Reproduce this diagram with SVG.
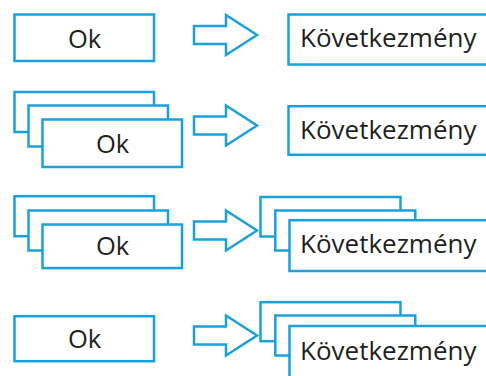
<svg xmlns="http://www.w3.org/2000/svg" width="486" height="376" viewBox="0 0 486 376">
  <style>
    .box { fill: #ffffff; stroke: #1aa0db; stroke-width: 2.5; }
    .arr { fill: #ffffff; stroke: #1aa0db; stroke-width: 2.5; stroke-linejoin: miter; }
    .t { font-family: "Open Sans", "Noto Sans", sans-serif; font-size: 26px; fill: #231f20; }
    .c { text-anchor: middle; font-size: 25.5px; }
  </style>
  <defs>
    <polygon id="arrow" class="arr" points="194,-9 226,-9 226,-20 257,0 226,20 226,9 194,9"/>
  </defs>
  <rect width="486" height="376" fill="#ffffff"/>

  <g id="row1-ok">
    <rect class="box" x="14.5" y="14.5" width="139.5" height="46.5"/>
    <text class="t c" x="84.5" y="48">Ok</text>
  </g>
  <g id="row1-kov">
    <rect class="box" x="288.5" y="14.5" width="220" height="50"/>
    <text class="t" x="300" y="47">Következmény</text>
  </g>

  <g id="row2-ok">
    <rect class="box" x="14.5" y="92" width="139.5" height="40"/>
    <rect class="box" x="28.5" y="105.5" width="139.5" height="41"/>
    <rect class="box" x="42.5" y="119.5" width="139.5" height="47.5"/>
    <text class="t c" x="112.5" y="152.5">Ok</text>
  </g>
  <g id="row2-kov">
    <rect class="box" x="288.5" y="106.2" width="220" height="48.6"/>
    <text class="t" x="300" y="139">Következmény</text>
  </g>

  <g id="row3-ok">
    <rect class="box" x="14.5" y="196.2" width="139.5" height="40"/>
    <rect class="box" x="28.5" y="210.5" width="139.5" height="40"/>
    <rect class="box" x="42.5" y="224.5" width="139.5" height="43.6"/>
    <text class="t c" x="112.5" y="255">Ok</text>
  </g>
  <g id="row3-kov">
    <rect class="box" x="260.5" y="197" width="140" height="39.5"/>
    <rect class="box" x="275.3" y="210.5" width="140" height="40"/>
    <rect class="box" x="289.5" y="220.2" width="220" height="50.8"/>
    <text class="t" x="300" y="252.5">Következmény</text>
  </g>

  <g id="row4-ok">
    <rect class="box" x="14.5" y="316.2" width="139.5" height="45"/>
    <text class="t c" x="84.5" y="348">Ok</text>
  </g>
  <g id="row4-kov">
    <rect class="box" x="260.5" y="302.2" width="140" height="39"/>
    <rect class="box" x="275.3" y="315.5" width="140" height="40"/>
    <rect class="box" x="289.5" y="326" width="220" height="60"/>
    <text class="t" x="300" y="360">Következmény</text>
  </g>

  <g id="connectors">
    <use href="#arrow" transform="translate(0,35)"/>
    <use href="#arrow" transform="translate(0,125.5)"/>
    <use href="#arrow" transform="translate(0,230.5)"/>
    <use href="#arrow" transform="translate(0,335.5)"/>
  </g>
</svg>
